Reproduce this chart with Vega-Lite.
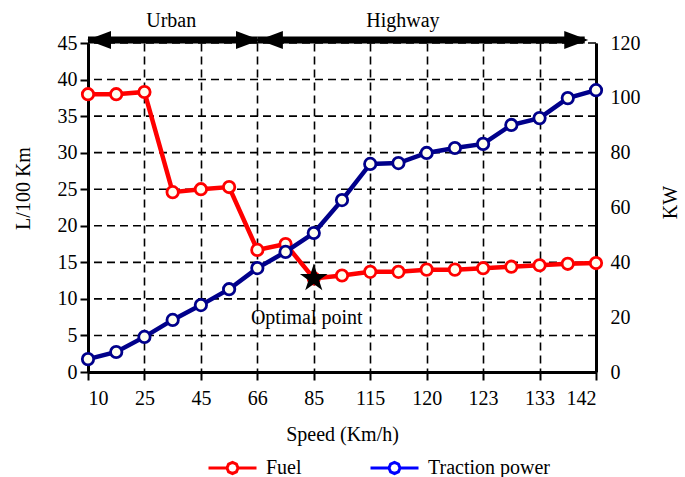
{
  "$schema": "https://vega.github.io/schema/vega-lite/v6.json",
  "autosize": "none",
  "width": 508,
  "height": 329,
  "padding": {"left": 88, "top": 43, "right": 89, "bottom": 105},
  "background": "white",
  "config": {
    "font": "Liberation Serif",
    "view": {"stroke": null},
    "axis": {"labelFontSize": 20, "titleFontSize": 20, "titleFontWeight": "normal", "labelColor": "black", "titleColor": "black", "domainColor": "black", "tickColor": "black", "gridColor": "black", "gridOpacity": 1, "gridDash": [8, 5], "gridWidth": 1.6, "domainWidth": 3, "tickWidth": 2},
    "legend": {"labelFontSize": 20, "labelColor": "black"}
  },
  "datasets": {
    "main": [
      {"i": 0, "fuel": 38.0, "power": 4.7},
      {"i": 1, "fuel": 38.0, "power": 7.3},
      {"i": 2, "fuel": 38.3, "power": 12.8},
      {"i": 3, "fuel": 24.6, "power": 19.0},
      {"i": 4, "fuel": 25.0, "power": 24.4},
      {"i": 5, "fuel": 25.3, "power": 30.2},
      {"i": 6, "fuel": 16.7, "power": 37.9},
      {"i": 7, "fuel": 17.5, "power": 43.8},
      {"i": 8, "fuel": 12.8, "power": 50.7},
      {"i": 9, "fuel": 13.2, "power": 62.7},
      {"i": 10, "fuel": 13.7, "power": 75.9},
      {"i": 11, "fuel": 13.7, "power": 76.2},
      {"i": 12, "fuel": 14.0, "power": 79.9},
      {"i": 13, "fuel": 14.0, "power": 81.7},
      {"i": 14, "fuel": 14.2, "power": 83.2},
      {"i": 15, "fuel": 14.4, "power": 90.1},
      {"i": 16, "fuel": 14.6, "power": 92.6},
      {"i": 17, "fuel": 14.8, "power": 99.9},
      {"i": 18, "fuel": 14.9, "power": 102.8}
    ]
  },
  "layer": [
    {
      "encoding": {
        "x": {"type": "quantitative", "scale": {"domain": [0, 18], "nice": false, "zero": false},
          "axis": {"values": [0,1,2,3,4,5,6,7,8,9,10,11,12,13,14,15,16,17,18], "grid": true, "tickSize": 8, "labelPadding": 8,
            "labelExpr": "['10','','25','','45','','66','','85','','115','','120','','123','','133','','142'][datum.value]",
            "title": "Speed (Km/h)", "titlePadding": 16}},
        "y": {"type": "quantitative", "scale": {"domain": [0, 45], "nice": false},
          "axis": {"values": [0,5,10,15,20,25,30,35,40,45], "labelOverlap": false, "grid": false, "tickSize": 8, "labelPadding": 3,
            "title": "L/100 Km", "titleX": -65, "titleY": 145, "titleAngle": -90, "titleAlign": "center", "titleBaseline": "middle"}}
      },
      "layer": [
        {
          "data": {"values": [{"g": 5}, {"g": 10}, {"g": 15}, {"g": 20}, {"g": 25}, {"g": 30}, {"g": 35}, {"g": 40}, {"g": 45}]},
          "mark": {"type": "rule", "color": "black", "strokeWidth": 1.6, "strokeDash": [8, 5]},
          "encoding": {
            "y": {"field": "g"}
          }
        },
        {
          "data": {"name": "main"},
          "mark": {"type": "line", "strokeWidth": 4.5, "color": "#ff0000"},
          "encoding": {
            "x": {"field": "i"},
            "y": {"field": "fuel"}
          }
        },
        {
          "data": {"name": "main"},
          "mark": {"type": "point", "filled": true, "fill": "#fffff0", "stroke": "#ff0000", "strokeWidth": 2.8, "size": 130, "opacity": 1},
          "encoding": {
            "x": {"field": "i"},
            "y": {"field": "fuel"}
          }
        },
        {
          "data": {"values": [{"i": 8, "v": 12.8}]},
          "mark": {"type": "point", "shape": "M0,-1L0.225,-0.309L0.951,-0.309L0.363,0.118L0.588,0.809L0,0.382L-0.588,0.809L-0.363,0.118L-0.951,-0.309L-0.225,-0.309Z", "filled": true, "color": "black", "size": 850, "opacity": 1},
          "encoding": {
            "x": {"field": "i"},
            "y": {"field": "v"}
          }
        },
        {
          "data": {"values": [{"a": 0, "b": 6, "v": 45.4}, {"a": 6, "b": 17.6, "v": 45.4}]},
          "mark": {"type": "rule", "strokeWidth": 7, "color": "black"},
          "encoding": {
            "x": {"field": "a"},
            "x2": {"field": "b"},
            "y": {"field": "v"}
          }
        },
        {
          "data": {"values": [{"a": 0.39, "v": 45.4}, {"a": 6.48, "v": 45.4}]},
          "mark": {"type": "point", "filled": true, "color": "black", "size": 576, "opacity": 1, "shape": "M1,-0.75L-1,0L1,0.75Z"},
          "encoding": {
            "x": {"field": "a"},
            "y": {"field": "v"}
          }
        },
        {
          "data": {"values": [{"a": 5.67, "v": 45.4}, {"a": 17.3, "v": 45.4}]},
          "mark": {"type": "point", "filled": true, "color": "black", "size": 576, "opacity": 1, "shape": "M-1,-0.75L1,0L-1,0.75Z"},
          "encoding": {
            "x": {"field": "a"},
            "y": {"field": "v"}
          }
        },
        {
          "data": {"values": [{"a": 2.95, "v": 48.0, "t": "Urban"}, {"a": 11.16, "v": 48.0, "t": "Highway"}, {"a": 7.75, "v": 7.4, "t": "Optimal point"}]},
          "mark": {"type": "text", "fontSize": 20, "align": "center", "baseline": "middle", "color": "black"},
          "encoding": {
            "x": {"field": "a"},
            "y": {"field": "v"},
            "text": {"field": "t"}
          }
        },
        {
          "data": {"values": [{"s": "Fuel", "a": 0, "v": 0}, {"s": "Traction power", "a": 0, "v": 0}]},
          "mark": {"type": "line", "strokeWidth": 3, "opacity": 0},
          "encoding": {
            "x": {"field": "a"},
            "y": {"field": "v"},
            "color": {"field": "s", "type": "nominal",
              "scale": {"domain": ["Fuel", "Traction power"], "range": ["#ff0000", "#0000ff"]},
              "legend": {"title": null, "orient": "none", "legendX": 119, "legendY": 399, "columns": 2,
                "symbolType": "M-1,0L-0.23,0M0.23,0L1,0M0.23,0L0.163,0.163L0,0.23L-0.163,0.163L-0.23,0L-0.163,-0.163L0,-0.23L0.163,-0.163Z",
                "symbolSize": 2304, "symbolStrokeWidth": 3, "symbolOpacity": 1, "symbolFillColor": "white", "labelOffset": 8, "columnPadding": 62}}
          }
        }
      ]
    },
    {
      "layer": [
        {
          "data": {"name": "main"},
          "mark": {"type": "line", "strokeWidth": 4.5, "color": "#00008b"},
          "encoding": {
            "x": {"field": "i", "type": "quantitative"},
            "y": {"field": "power", "type": "quantitative", "scale": {"domain": [0, 120], "nice": false},
              "axis": {"orient": "right", "values": [0,20,40,60,80,100,120], "labelOverlap": false, "grid": false, "ticks": false, "labelPadding": 14,
                "title": "KW", "titleX": 74, "titleY": 159, "titleAngle": 270, "titleAlign": "center", "titleBaseline": "middle"}}
          }
        },
        {
          "data": {"name": "main"},
          "mark": {"type": "point", "filled": true, "fill": "#fffff0", "stroke": "#00008b", "strokeWidth": 2.8, "size": 130, "opacity": 1},
          "encoding": {
            "x": {"field": "i", "type": "quantitative"},
            "y": {"field": "power", "type": "quantitative"}
          }
        }
      ]
    }
  ],
  "resolve": {"scale": {"y": "independent"}}
}
